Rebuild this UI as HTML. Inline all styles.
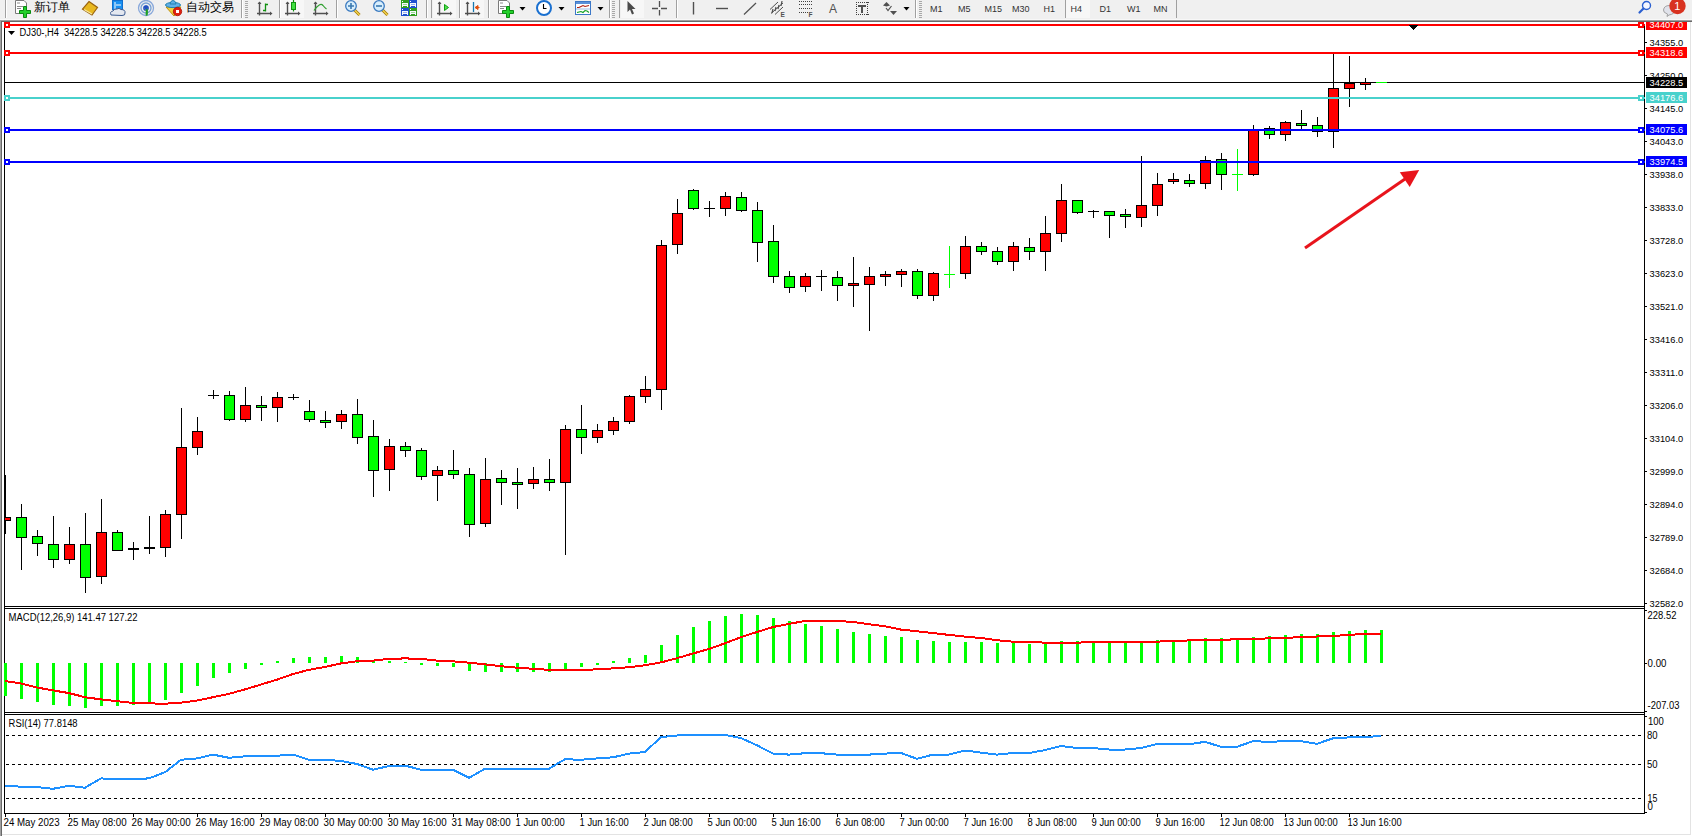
<!DOCTYPE html><html><head><meta charset="utf-8"><style>html,body{margin:0;padding:0;background:#fff;overflow:hidden}svg{display:block}text{font-family:"Liberation Sans", sans-serif}</style></head><body>
<svg width="1692" height="836" viewBox="0 0 1692 836">
<rect x="0" y="0" width="1692" height="836" fill="#ffffff"/>
<g shape-rendering="crispEdges">
<rect x="1690" y="21" width="1" height="814" fill="#e3e3e3"/>
<rect x="1" y="834" width="1690" height="1" fill="#e3e3e3"/>
<rect x="4" y="22" width="1" height="792" fill="#000"/>
<rect x="1644" y="26" width="1" height="788" fill="#000"/>
<rect x="4" y="606" width="1641" height="1" fill="#000"/>
<rect x="4" y="608" width="1641" height="1" fill="#000"/>
<rect x="4" y="712" width="1641" height="1" fill="#000"/>
<rect x="4" y="714" width="1641" height="1" fill="#000"/>
<rect x="4" y="813" width="1641" height="1" fill="#000"/>
<rect x="1645" y="42" width="2" height="1" fill="#000"/>
<rect x="1645" y="75" width="2" height="1" fill="#000"/>
<rect x="1645" y="108" width="2" height="1" fill="#000"/>
<rect x="1645" y="141" width="2" height="1" fill="#000"/>
<rect x="1645" y="174" width="2" height="1" fill="#000"/>
<rect x="1645" y="207" width="2" height="1" fill="#000"/>
<rect x="1645" y="240" width="2" height="1" fill="#000"/>
<rect x="1645" y="273" width="2" height="1" fill="#000"/>
<rect x="1645" y="306" width="2" height="1" fill="#000"/>
<rect x="1645" y="339" width="2" height="1" fill="#000"/>
<rect x="1645" y="372" width="2" height="1" fill="#000"/>
<rect x="1645" y="405" width="2" height="1" fill="#000"/>
<rect x="1645" y="438" width="2" height="1" fill="#000"/>
<rect x="1645" y="471" width="2" height="1" fill="#000"/>
<rect x="1645" y="504" width="2" height="1" fill="#000"/>
<rect x="1645" y="537" width="2" height="1" fill="#000"/>
<rect x="1645" y="570" width="2" height="1" fill="#000"/>
<rect x="1645" y="603" width="2" height="1" fill="#000"/>
<rect x="5" y="814" width="1" height="3" fill="#000"/>
<rect x="69" y="814" width="1" height="3" fill="#000"/>
<rect x="133" y="814" width="1" height="3" fill="#000"/>
<rect x="197" y="814" width="1" height="3" fill="#000"/>
<rect x="261" y="814" width="1" height="3" fill="#000"/>
<rect x="325" y="814" width="1" height="3" fill="#000"/>
<rect x="389" y="814" width="1" height="3" fill="#000"/>
<rect x="453" y="814" width="1" height="3" fill="#000"/>
<rect x="517" y="814" width="1" height="3" fill="#000"/>
<rect x="581" y="814" width="1" height="3" fill="#000"/>
<rect x="645" y="814" width="1" height="3" fill="#000"/>
<rect x="709" y="814" width="1" height="3" fill="#000"/>
<rect x="773" y="814" width="1" height="3" fill="#000"/>
<rect x="837" y="814" width="1" height="3" fill="#000"/>
<rect x="901" y="814" width="1" height="3" fill="#000"/>
<rect x="965" y="814" width="1" height="3" fill="#000"/>
<rect x="1029" y="814" width="1" height="3" fill="#000"/>
<rect x="1093" y="814" width="1" height="3" fill="#000"/>
<rect x="1157" y="814" width="1" height="3" fill="#000"/>
<rect x="1221" y="814" width="1" height="3" fill="#000"/>
<rect x="1285" y="814" width="1" height="3" fill="#000"/>
<rect x="1349" y="814" width="1" height="3" fill="#000"/>
</g>
<g shape-rendering="crispEdges">
<rect x="5" y="475" width="1" height="59" fill="#000"/>
<rect x="0" y="517" width="11" height="4" fill="#000"/><rect x="1" y="518" width="9" height="2" fill="#ff0000"/>
<rect x="21" y="504" width="1" height="66" fill="#000"/>
<rect x="16" y="517" width="11" height="21" fill="#000"/><rect x="17" y="518" width="9" height="19" fill="#00ff00"/>
<rect x="37" y="530" width="1" height="26" fill="#000"/>
<rect x="32" y="536" width="11" height="8" fill="#000"/><rect x="33" y="537" width="9" height="6" fill="#00ff00"/>
<rect x="53" y="516" width="1" height="52" fill="#000"/>
<rect x="48" y="544" width="11" height="16" fill="#000"/><rect x="49" y="545" width="9" height="14" fill="#00ff00"/>
<rect x="69" y="527" width="1" height="37" fill="#000"/>
<rect x="64" y="544" width="11" height="16" fill="#000"/><rect x="65" y="545" width="9" height="14" fill="#ff0000"/>
<rect x="85" y="513" width="1" height="80" fill="#000"/>
<rect x="80" y="544" width="11" height="34" fill="#000"/><rect x="81" y="545" width="9" height="32" fill="#00ff00"/>
<rect x="101" y="499" width="1" height="85" fill="#000"/>
<rect x="96" y="532" width="11" height="45" fill="#000"/><rect x="97" y="533" width="9" height="43" fill="#ff0000"/>
<rect x="117" y="530" width="1" height="21" fill="#000"/>
<rect x="112" y="532" width="11" height="19" fill="#000"/><rect x="113" y="533" width="9" height="17" fill="#00ff00"/>
<rect x="133" y="542" width="1" height="18" fill="#000"/>
<rect x="128" y="548" width="11" height="2" fill="#000"/>
<rect x="149" y="516" width="1" height="38" fill="#000"/>
<rect x="144" y="547" width="11" height="2" fill="#000"/>
<rect x="165" y="510" width="1" height="47" fill="#000"/>
<rect x="160" y="514" width="11" height="34" fill="#000"/><rect x="161" y="515" width="9" height="32" fill="#ff0000"/>
<rect x="181" y="408" width="1" height="131" fill="#000"/>
<rect x="176" y="447" width="11" height="68" fill="#000"/><rect x="177" y="448" width="9" height="66" fill="#ff0000"/>
<rect x="197" y="417" width="1" height="38" fill="#000"/>
<rect x="192" y="431" width="11" height="17" fill="#000"/><rect x="193" y="432" width="9" height="15" fill="#ff0000"/>
<rect x="213" y="390" width="1" height="9" fill="#000"/>
<rect x="208" y="395" width="11" height="1" fill="#000"/>
<rect x="229" y="391" width="1" height="30" fill="#000"/>
<rect x="224" y="395" width="11" height="25" fill="#000"/><rect x="225" y="396" width="9" height="23" fill="#00ff00"/>
<rect x="245" y="387" width="1" height="35" fill="#000"/>
<rect x="240" y="405" width="11" height="15" fill="#000"/><rect x="241" y="406" width="9" height="13" fill="#ff0000"/>
<rect x="261" y="396" width="1" height="25" fill="#000"/>
<rect x="256" y="405" width="11" height="3" fill="#000"/><rect x="257" y="406" width="9" height="1" fill="#00ff00"/>
<rect x="277" y="392" width="1" height="30" fill="#000"/>
<rect x="272" y="397" width="11" height="11" fill="#000"/><rect x="273" y="398" width="9" height="9" fill="#ff0000"/>
<rect x="293" y="394" width="1" height="6" fill="#000"/>
<rect x="288" y="397" width="11" height="1" fill="#000"/>
<rect x="309" y="400" width="1" height="22" fill="#000"/>
<rect x="304" y="411" width="11" height="9" fill="#000"/><rect x="305" y="412" width="9" height="7" fill="#00ff00"/>
<rect x="325" y="411" width="1" height="17" fill="#000"/>
<rect x="320" y="420" width="11" height="3" fill="#000"/><rect x="321" y="421" width="9" height="1" fill="#00ff00"/>
<rect x="341" y="410" width="1" height="19" fill="#000"/>
<rect x="336" y="414" width="11" height="8" fill="#000"/><rect x="337" y="415" width="9" height="6" fill="#ff0000"/>
<rect x="357" y="399" width="1" height="45" fill="#000"/>
<rect x="352" y="414" width="11" height="24" fill="#000"/><rect x="353" y="415" width="9" height="22" fill="#00ff00"/>
<rect x="373" y="420" width="1" height="77" fill="#000"/>
<rect x="368" y="436" width="11" height="35" fill="#000"/><rect x="369" y="437" width="9" height="33" fill="#00ff00"/>
<rect x="389" y="439" width="1" height="52" fill="#000"/>
<rect x="384" y="446" width="11" height="24" fill="#000"/><rect x="385" y="447" width="9" height="22" fill="#ff0000"/>
<rect x="405" y="442" width="1" height="15" fill="#000"/>
<rect x="400" y="446" width="11" height="5" fill="#000"/><rect x="401" y="447" width="9" height="3" fill="#00ff00"/>
<rect x="421" y="448" width="1" height="32" fill="#000"/>
<rect x="416" y="450" width="11" height="27" fill="#000"/><rect x="417" y="451" width="9" height="25" fill="#00ff00"/>
<rect x="437" y="466" width="1" height="35" fill="#000"/>
<rect x="432" y="470" width="11" height="6" fill="#000"/><rect x="433" y="471" width="9" height="4" fill="#ff0000"/>
<rect x="453" y="450" width="1" height="29" fill="#000"/>
<rect x="448" y="470" width="11" height="5" fill="#000"/><rect x="449" y="471" width="9" height="3" fill="#00ff00"/>
<rect x="469" y="468" width="1" height="69" fill="#000"/>
<rect x="464" y="474" width="11" height="51" fill="#000"/><rect x="465" y="475" width="9" height="49" fill="#00ff00"/>
<rect x="485" y="458" width="1" height="69" fill="#000"/>
<rect x="480" y="479" width="11" height="45" fill="#000"/><rect x="481" y="480" width="9" height="43" fill="#ff0000"/>
<rect x="501" y="470" width="1" height="35" fill="#000"/>
<rect x="496" y="478" width="11" height="5" fill="#000"/><rect x="497" y="479" width="9" height="3" fill="#00ff00"/>
<rect x="517" y="468" width="1" height="41" fill="#000"/>
<rect x="512" y="482" width="11" height="3" fill="#000"/><rect x="513" y="483" width="9" height="1" fill="#00ff00"/>
<rect x="533" y="467" width="1" height="22" fill="#000"/>
<rect x="528" y="479" width="11" height="5" fill="#000"/><rect x="529" y="480" width="9" height="3" fill="#ff0000"/>
<rect x="549" y="459" width="1" height="32" fill="#000"/>
<rect x="544" y="479" width="11" height="4" fill="#000"/><rect x="545" y="480" width="9" height="2" fill="#00ff00"/>
<rect x="565" y="425" width="1" height="130" fill="#000"/>
<rect x="560" y="429" width="11" height="54" fill="#000"/><rect x="561" y="430" width="9" height="52" fill="#ff0000"/>
<rect x="581" y="405" width="1" height="49" fill="#000"/>
<rect x="576" y="429" width="11" height="9" fill="#000"/><rect x="577" y="430" width="9" height="7" fill="#00ff00"/>
<rect x="597" y="424" width="1" height="19" fill="#000"/>
<rect x="592" y="430" width="11" height="8" fill="#000"/><rect x="593" y="431" width="9" height="6" fill="#ff0000"/>
<rect x="613" y="417" width="1" height="18" fill="#000"/>
<rect x="608" y="421" width="11" height="10" fill="#000"/><rect x="609" y="422" width="9" height="8" fill="#ff0000"/>
<rect x="629" y="395" width="1" height="29" fill="#000"/>
<rect x="624" y="396" width="11" height="26" fill="#000"/><rect x="625" y="397" width="9" height="24" fill="#ff0000"/>
<rect x="645" y="376" width="1" height="27" fill="#000"/>
<rect x="640" y="389" width="11" height="8" fill="#000"/><rect x="641" y="390" width="9" height="6" fill="#ff0000"/>
<rect x="661" y="240" width="1" height="170" fill="#000"/>
<rect x="656" y="245" width="11" height="145" fill="#000"/><rect x="657" y="246" width="9" height="143" fill="#ff0000"/>
<rect x="677" y="199" width="1" height="55" fill="#000"/>
<rect x="672" y="213" width="11" height="32" fill="#000"/><rect x="673" y="214" width="9" height="30" fill="#ff0000"/>
<rect x="693" y="189" width="1" height="21" fill="#000"/>
<rect x="688" y="190" width="11" height="19" fill="#000"/><rect x="689" y="191" width="9" height="17" fill="#00ff00"/>
<rect x="709" y="201" width="1" height="16" fill="#000"/>
<rect x="704" y="208" width="11" height="1" fill="#000"/>
<rect x="725" y="192" width="1" height="24" fill="#000"/>
<rect x="720" y="196" width="11" height="13" fill="#000"/><rect x="721" y="197" width="9" height="11" fill="#ff0000"/>
<rect x="741" y="192" width="1" height="20" fill="#000"/>
<rect x="736" y="197" width="11" height="14" fill="#000"/><rect x="737" y="198" width="9" height="12" fill="#00ff00"/>
<rect x="757" y="202" width="1" height="60" fill="#000"/>
<rect x="752" y="210" width="11" height="33" fill="#000"/><rect x="753" y="211" width="9" height="31" fill="#00ff00"/>
<rect x="773" y="225" width="1" height="58" fill="#000"/>
<rect x="768" y="241" width="11" height="36" fill="#000"/><rect x="769" y="242" width="9" height="34" fill="#00ff00"/>
<rect x="789" y="271" width="1" height="22" fill="#000"/>
<rect x="784" y="276" width="11" height="12" fill="#000"/><rect x="785" y="277" width="9" height="10" fill="#00ff00"/>
<rect x="805" y="273" width="1" height="19" fill="#000"/>
<rect x="800" y="276" width="11" height="11" fill="#000"/><rect x="801" y="277" width="9" height="9" fill="#ff0000"/>
<rect x="821" y="270" width="1" height="21" fill="#000"/>
<rect x="816" y="276" width="11" height="1" fill="#000"/>
<rect x="837" y="271" width="1" height="30" fill="#000"/>
<rect x="832" y="277" width="11" height="9" fill="#000"/><rect x="833" y="278" width="9" height="7" fill="#00ff00"/>
<rect x="853" y="257" width="1" height="50" fill="#000"/>
<rect x="848" y="283" width="11" height="3" fill="#000"/><rect x="849" y="284" width="9" height="1" fill="#ff0000"/>
<rect x="869" y="267" width="1" height="64" fill="#000"/>
<rect x="864" y="276" width="11" height="9" fill="#000"/><rect x="865" y="277" width="9" height="7" fill="#ff0000"/>
<rect x="885" y="271" width="1" height="15" fill="#000"/>
<rect x="880" y="274" width="11" height="3" fill="#000"/><rect x="881" y="275" width="9" height="1" fill="#ff0000"/>
<rect x="901" y="269" width="1" height="18" fill="#000"/>
<rect x="896" y="271" width="11" height="4" fill="#000"/><rect x="897" y="272" width="9" height="2" fill="#ff0000"/>
<rect x="917" y="269" width="1" height="30" fill="#000"/>
<rect x="912" y="271" width="11" height="25" fill="#000"/><rect x="913" y="272" width="9" height="23" fill="#00ff00"/>
<rect x="933" y="272" width="1" height="29" fill="#000"/>
<rect x="928" y="273" width="11" height="23" fill="#000"/><rect x="929" y="274" width="9" height="21" fill="#ff0000"/>
<rect x="949" y="246" width="1" height="42" fill="#00ff00"/>
<rect x="944" y="274" width="11" height="1" fill="#00ff00"/>
<rect x="965" y="236" width="1" height="43" fill="#000"/>
<rect x="960" y="246" width="11" height="28" fill="#000"/><rect x="961" y="247" width="9" height="26" fill="#ff0000"/>
<rect x="981" y="242" width="1" height="13" fill="#000"/>
<rect x="976" y="246" width="11" height="6" fill="#000"/><rect x="977" y="247" width="9" height="4" fill="#00ff00"/>
<rect x="997" y="247" width="1" height="18" fill="#000"/>
<rect x="992" y="251" width="11" height="11" fill="#000"/><rect x="993" y="252" width="9" height="9" fill="#00ff00"/>
<rect x="1013" y="242" width="1" height="29" fill="#000"/>
<rect x="1008" y="246" width="11" height="16" fill="#000"/><rect x="1009" y="247" width="9" height="14" fill="#ff0000"/>
<rect x="1029" y="238" width="1" height="22" fill="#000"/>
<rect x="1024" y="247" width="11" height="5" fill="#000"/><rect x="1025" y="248" width="9" height="3" fill="#00ff00"/>
<rect x="1045" y="216" width="1" height="55" fill="#000"/>
<rect x="1040" y="233" width="11" height="19" fill="#000"/><rect x="1041" y="234" width="9" height="17" fill="#ff0000"/>
<rect x="1061" y="184" width="1" height="58" fill="#000"/>
<rect x="1056" y="200" width="11" height="34" fill="#000"/><rect x="1057" y="201" width="9" height="32" fill="#ff0000"/>
<rect x="1077" y="200" width="1" height="14" fill="#000"/>
<rect x="1072" y="200" width="11" height="13" fill="#000"/><rect x="1073" y="201" width="9" height="11" fill="#00ff00"/>
<rect x="1093" y="210" width="1" height="8" fill="#000"/>
<rect x="1088" y="211" width="11" height="1" fill="#000"/>
<rect x="1109" y="211" width="1" height="27" fill="#000"/>
<rect x="1104" y="211" width="11" height="5" fill="#000"/><rect x="1105" y="212" width="9" height="3" fill="#00ff00"/>
<rect x="1125" y="209" width="1" height="19" fill="#000"/>
<rect x="1120" y="214" width="11" height="3" fill="#000"/><rect x="1121" y="215" width="9" height="1" fill="#00ff00"/>
<rect x="1141" y="156" width="1" height="71" fill="#000"/>
<rect x="1136" y="205" width="11" height="13" fill="#000"/><rect x="1137" y="206" width="9" height="11" fill="#ff0000"/>
<rect x="1157" y="173" width="1" height="43" fill="#000"/>
<rect x="1152" y="184" width="11" height="22" fill="#000"/><rect x="1153" y="185" width="9" height="20" fill="#ff0000"/>
<rect x="1173" y="173" width="1" height="11" fill="#000"/>
<rect x="1168" y="179" width="11" height="3" fill="#000"/><rect x="1169" y="180" width="9" height="1" fill="#ff0000"/>
<rect x="1189" y="174" width="1" height="13" fill="#000"/>
<rect x="1184" y="180" width="11" height="4" fill="#000"/><rect x="1185" y="181" width="9" height="2" fill="#00ff00"/>
<rect x="1205" y="156" width="1" height="33" fill="#000"/>
<rect x="1200" y="160" width="11" height="24" fill="#000"/><rect x="1201" y="161" width="9" height="22" fill="#ff0000"/>
<rect x="1221" y="153" width="1" height="37" fill="#000"/>
<rect x="1216" y="159" width="11" height="16" fill="#000"/><rect x="1217" y="160" width="9" height="14" fill="#00ff00"/>
<rect x="1237" y="149" width="1" height="42" fill="#00ff00"/>
<rect x="1232" y="174" width="11" height="1" fill="#00ff00"/>
<rect x="1253" y="125" width="1" height="51" fill="#000"/>
<rect x="1248" y="130" width="11" height="45" fill="#000"/><rect x="1249" y="131" width="9" height="43" fill="#ff0000"/>
<rect x="1269" y="126" width="1" height="13" fill="#000"/>
<rect x="1264" y="128" width="11" height="7" fill="#000"/><rect x="1265" y="129" width="9" height="5" fill="#00ff00"/>
<rect x="1285" y="121" width="1" height="20" fill="#000"/>
<rect x="1280" y="122" width="11" height="13" fill="#000"/><rect x="1281" y="123" width="9" height="11" fill="#ff0000"/>
<rect x="1301" y="110" width="1" height="19" fill="#000"/>
<rect x="1296" y="123" width="11" height="3" fill="#000"/><rect x="1297" y="124" width="9" height="1" fill="#00ff00"/>
<rect x="1317" y="117" width="1" height="20" fill="#000"/>
<rect x="1312" y="125" width="11" height="7" fill="#000"/><rect x="1313" y="126" width="9" height="5" fill="#00ff00"/>
<rect x="1333" y="54" width="1" height="94" fill="#000"/>
<rect x="1328" y="88" width="11" height="44" fill="#000"/><rect x="1329" y="89" width="9" height="42" fill="#ff0000"/>
<rect x="1349" y="56" width="1" height="51" fill="#000"/>
<rect x="1344" y="83" width="11" height="6" fill="#000"/><rect x="1345" y="84" width="9" height="4" fill="#ff0000"/>
<rect x="1365" y="78" width="1" height="12" fill="#000"/>
<rect x="1360" y="82" width="11" height="3" fill="#000"/><rect x="1361" y="83" width="9" height="1" fill="#ff0000"/>
<rect x="1376" y="82" width="11" height="1" fill="#00ff00"/>
</g>
<rect x="0" y="22" width="4" height="584" fill="#fff" shape-rendering="crispEdges"/>
<rect x="4" y="22" width="1" height="584" fill="#000" shape-rendering="crispEdges"/>
<rect x="0" y="20" width="1" height="816" fill="#a0a0a0" shape-rendering="crispEdges"/>
<rect x="1" y="21" width="1" height="815" fill="#696969" shape-rendering="crispEdges"/>
<g shape-rendering="crispEdges">
<rect x="5" y="24" width="1640" height="2" fill="#ff0000"/><rect x="4" y="22" width="6" height="6" fill="#ff0000"/><rect x="6" y="24" width="2" height="2" fill="#fff"/><rect x="1638" y="22" width="6" height="6" fill="#ff0000"/><rect x="1640" y="24" width="2" height="2" fill="#fff"/>
<rect x="5" y="52" width="1640" height="2" fill="#ff0000"/><rect x="4" y="50" width="6" height="6" fill="#ff0000"/><rect x="6" y="52" width="2" height="2" fill="#fff"/><rect x="1638" y="50" width="6" height="6" fill="#ff0000"/><rect x="1640" y="52" width="2" height="2" fill="#fff"/>
<rect x="5" y="82" width="1640" height="1" fill="#000"/>
<rect x="5" y="97" width="1640" height="2" fill="#48d1cc"/><rect x="4" y="95" width="6" height="6" fill="#48d1cc"/><rect x="6" y="97" width="2" height="2" fill="#fff"/><rect x="1638" y="95" width="6" height="6" fill="#48d1cc"/><rect x="1640" y="97" width="2" height="2" fill="#fff"/>
<rect x="5" y="129" width="1640" height="2" fill="#0000ff"/><rect x="4" y="127" width="6" height="6" fill="#0000ff"/><rect x="6" y="129" width="2" height="2" fill="#fff"/><rect x="1638" y="127" width="6" height="6" fill="#0000ff"/><rect x="1640" y="129" width="2" height="2" fill="#fff"/>
<rect x="5" y="161" width="1640" height="2" fill="#0000ff"/><rect x="4" y="159" width="6" height="6" fill="#0000ff"/><rect x="6" y="161" width="2" height="2" fill="#fff"/><rect x="1638" y="159" width="6" height="6" fill="#0000ff"/><rect x="1640" y="161" width="2" height="2" fill="#fff"/>
</g>
<rect x="1376" y="82" width="11" height="1" fill="#00ff00" shape-rendering="crispEdges"/>
<path d="M1409 25 L1418 25 L1413.5 29.8 Z" fill="#000" shape-rendering="crispEdges"/>
<line x1="1305" y1="248" x2="1405" y2="179" stroke="#e8141c" stroke-width="3"/>
<path d="M1399.8 172.3 L1419.2 169.9 L1409.7 186.9 Z" fill="#e8141c"/>
<g shape-rendering="crispEdges">
<rect x="4" y="663" width="3" height="33" fill="#00ff00"/>
<rect x="20" y="663" width="3" height="36" fill="#00ff00"/>
<rect x="36" y="663" width="3" height="39" fill="#00ff00"/>
<rect x="52" y="663" width="3" height="42" fill="#00ff00"/>
<rect x="68" y="663" width="3" height="43" fill="#00ff00"/>
<rect x="84" y="663" width="3" height="45" fill="#00ff00"/>
<rect x="100" y="663" width="3" height="43" fill="#00ff00"/>
<rect x="116" y="663" width="3" height="43" fill="#00ff00"/>
<rect x="132" y="663" width="3" height="42" fill="#00ff00"/>
<rect x="148" y="663" width="3" height="40" fill="#00ff00"/>
<rect x="164" y="663" width="3" height="37" fill="#00ff00"/>
<rect x="180" y="663" width="3" height="30" fill="#00ff00"/>
<rect x="196" y="663" width="3" height="23" fill="#00ff00"/>
<rect x="212" y="663" width="3" height="15" fill="#00ff00"/>
<rect x="228" y="663" width="3" height="10" fill="#00ff00"/>
<rect x="244" y="663" width="3" height="6" fill="#00ff00"/>
<rect x="260" y="663" width="3" height="2" fill="#00ff00"/>
<rect x="276" y="661" width="3" height="2" fill="#00ff00"/>
<rect x="292" y="658" width="3" height="5" fill="#00ff00"/>
<rect x="308" y="657" width="3" height="6" fill="#00ff00"/>
<rect x="324" y="657" width="3" height="6" fill="#00ff00"/>
<rect x="340" y="656" width="3" height="7" fill="#00ff00"/>
<rect x="356" y="657" width="3" height="6" fill="#00ff00"/>
<rect x="372" y="661" width="3" height="2" fill="#00ff00"/>
<rect x="388" y="661" width="3" height="2" fill="#00ff00"/>
<rect x="404" y="662" width="3" height="1" fill="#00ff00"/>
<rect x="420" y="663" width="3" height="2" fill="#00ff00"/>
<rect x="436" y="663" width="3" height="3" fill="#00ff00"/>
<rect x="452" y="663" width="3" height="4" fill="#00ff00"/>
<rect x="468" y="663" width="3" height="8" fill="#00ff00"/>
<rect x="484" y="663" width="3" height="9" fill="#00ff00"/>
<rect x="500" y="663" width="3" height="9" fill="#00ff00"/>
<rect x="516" y="663" width="3" height="9" fill="#00ff00"/>
<rect x="532" y="663" width="3" height="9" fill="#00ff00"/>
<rect x="548" y="663" width="3" height="9" fill="#00ff00"/>
<rect x="564" y="663" width="3" height="6" fill="#00ff00"/>
<rect x="580" y="663" width="3" height="4" fill="#00ff00"/>
<rect x="596" y="663" width="3" height="2" fill="#00ff00"/>
<rect x="612" y="661" width="3" height="2" fill="#00ff00"/>
<rect x="628" y="658" width="3" height="5" fill="#00ff00"/>
<rect x="644" y="655" width="3" height="8" fill="#00ff00"/>
<rect x="660" y="645" width="3" height="18" fill="#00ff00"/>
<rect x="676" y="635" width="3" height="28" fill="#00ff00"/>
<rect x="692" y="627" width="3" height="36" fill="#00ff00"/>
<rect x="708" y="621" width="3" height="42" fill="#00ff00"/>
<rect x="724" y="616" width="3" height="47" fill="#00ff00"/>
<rect x="740" y="614" width="3" height="49" fill="#00ff00"/>
<rect x="756" y="615" width="3" height="48" fill="#00ff00"/>
<rect x="772" y="618" width="3" height="45" fill="#00ff00"/>
<rect x="788" y="621" width="3" height="42" fill="#00ff00"/>
<rect x="804" y="624" width="3" height="39" fill="#00ff00"/>
<rect x="820" y="626" width="3" height="37" fill="#00ff00"/>
<rect x="836" y="629" width="3" height="34" fill="#00ff00"/>
<rect x="852" y="632" width="3" height="31" fill="#00ff00"/>
<rect x="868" y="634" width="3" height="29" fill="#00ff00"/>
<rect x="884" y="636" width="3" height="27" fill="#00ff00"/>
<rect x="900" y="637" width="3" height="26" fill="#00ff00"/>
<rect x="916" y="640" width="3" height="23" fill="#00ff00"/>
<rect x="932" y="641" width="3" height="22" fill="#00ff00"/>
<rect x="948" y="642" width="3" height="21" fill="#00ff00"/>
<rect x="964" y="642" width="3" height="21" fill="#00ff00"/>
<rect x="980" y="642" width="3" height="21" fill="#00ff00"/>
<rect x="996" y="643" width="3" height="20" fill="#00ff00"/>
<rect x="1012" y="643" width="3" height="20" fill="#00ff00"/>
<rect x="1028" y="644" width="3" height="19" fill="#00ff00"/>
<rect x="1044" y="643" width="3" height="20" fill="#00ff00"/>
<rect x="1060" y="641" width="3" height="22" fill="#00ff00"/>
<rect x="1076" y="641" width="3" height="22" fill="#00ff00"/>
<rect x="1092" y="641" width="3" height="22" fill="#00ff00"/>
<rect x="1108" y="642" width="3" height="21" fill="#00ff00"/>
<rect x="1124" y="642" width="3" height="21" fill="#00ff00"/>
<rect x="1140" y="642" width="3" height="21" fill="#00ff00"/>
<rect x="1156" y="640" width="3" height="23" fill="#00ff00"/>
<rect x="1172" y="640" width="3" height="23" fill="#00ff00"/>
<rect x="1188" y="639" width="3" height="24" fill="#00ff00"/>
<rect x="1204" y="638" width="3" height="25" fill="#00ff00"/>
<rect x="1220" y="638" width="3" height="25" fill="#00ff00"/>
<rect x="1236" y="640" width="3" height="23" fill="#00ff00"/>
<rect x="1252" y="637" width="3" height="26" fill="#00ff00"/>
<rect x="1268" y="636" width="3" height="27" fill="#00ff00"/>
<rect x="1284" y="635" width="3" height="28" fill="#00ff00"/>
<rect x="1300" y="634" width="3" height="29" fill="#00ff00"/>
<rect x="1316" y="634" width="3" height="29" fill="#00ff00"/>
<rect x="1332" y="632" width="3" height="31" fill="#00ff00"/>
<rect x="1348" y="631" width="3" height="32" fill="#00ff00"/>
<rect x="1364" y="630" width="3" height="33" fill="#00ff00"/>
<rect x="1380" y="630" width="3" height="33" fill="#00ff00"/>
</g>
<polyline points="5,681 21,683.5 37,687.5 53,690.4 69,693.1 85,697.2 101,699.4 117,701.2 133,703 149,703.4 165,703.7 181,702.7 197,700.5 213,697.2 229,693.8 245,689.4 261,684.5 277,679.7 293,674 309,669.8 325,667 341,663.4 357,661.3 373,660.6 389,658.9 405,658.4 421,658.9 437,660.6 453,661.3 469,662.7 485,664.4 501,666.2 517,667.7 533,668.8 549,669.8 565,669.8 581,669.8 597,669.4 613,668.4 629,667.2 645,665.2 661,662.4 677,658.2 693,653.5 709,649 725,643.3 741,637.2 757,632 773,627 789,623.9 805,620.9 821,620.6 837,620.9 853,622 869,624.2 885,626.3 901,629.6 917,631.3 949,634.9 965,636.6 981,638 997,640.2 1013,641.7 1029,641.7 1045,642.7 1077,642.7 1093,642 1109,641.7 1157,641.7 1173,640.8 1221,639.8 1253,638.8 1285,638 1301,637 1333,636 1349,634.9 1365,633.9 1381,633.9" fill="none" stroke="#ff0000" stroke-width="2" shape-rendering="crispEdges"/>
<line x1="6" y1="735.5" x2="1644" y2="735.5" stroke="#000" stroke-width="1" stroke-dasharray="3,3" shape-rendering="crispEdges"/>
<line x1="6" y1="764.5" x2="1644" y2="764.5" stroke="#000" stroke-width="1" stroke-dasharray="3,3" shape-rendering="crispEdges"/>
<line x1="6" y1="798.5" x2="1644" y2="798.5" stroke="#000" stroke-width="1" stroke-dasharray="3,3" shape-rendering="crispEdges"/>
<polyline points="5,785.7 21,786.7 37,787.1 53,788.8 69,785.7 85,787.7 101,778.4 117,779.5 133,779.1 149,778.4 165,772.2 181,759.8 197,758.4 213,754.6 229,757.8 245,756.3 261,755.7 277,755.7 293,754.6 309,759.8 325,759.8 341,760.9 357,764 373,769.7 389,766 405,765.6 421,769.7 437,769.7 453,769.7 469,777.8 485,768.7 501,768.7 517,768.7 533,768.7 549,768.7 565,759.2 581,759.8 597,758.4 613,757.3 629,753.6 645,752 661,737.1 677,735.5 693,735 709,735 725,735 741,738.1 757,745.3 773,753.6 789,754.6 805,753.2 821,753.2 837,754.6 853,754.6 869,754.6 885,753.6 901,753 917,758.8 933,754.6 949,754.6 965,750.5 981,752.6 997,754.6 1013,753 1029,753 1045,750.1 1061,746 1077,748 1093,748 1109,749.5 1125,749.5 1141,748 1157,743.9 1173,744.3 1189,744.3 1205,741.8 1221,746.8 1237,746.8 1253,741.2 1269,741.8 1285,741.2 1301,741.2 1317,743.8 1333,738.3 1349,737.4 1365,736.7 1381,736.3" fill="none" stroke="#1e90ff" stroke-width="2" shape-rendering="crispEdges"/>
<text x="1649.6" y="46" font-size="9.6" fill="#000" textLength="33.6" lengthAdjust="spacingAndGlyphs">34355.0</text>
<text x="1649.6" y="79" font-size="9.6" fill="#000" textLength="33.6" lengthAdjust="spacingAndGlyphs">34250.0</text>
<text x="1649.6" y="112" font-size="9.6" fill="#000" textLength="33.6" lengthAdjust="spacingAndGlyphs">34145.0</text>
<text x="1649.6" y="145" font-size="9.6" fill="#000" textLength="33.6" lengthAdjust="spacingAndGlyphs">34043.0</text>
<text x="1649.6" y="178" font-size="9.6" fill="#000" textLength="33.6" lengthAdjust="spacingAndGlyphs">33938.0</text>
<text x="1649.6" y="211" font-size="9.6" fill="#000" textLength="33.6" lengthAdjust="spacingAndGlyphs">33833.0</text>
<text x="1649.6" y="244" font-size="9.6" fill="#000" textLength="33.6" lengthAdjust="spacingAndGlyphs">33728.0</text>
<text x="1649.6" y="277" font-size="9.6" fill="#000" textLength="33.6" lengthAdjust="spacingAndGlyphs">33623.0</text>
<text x="1649.6" y="310" font-size="9.6" fill="#000" textLength="33.6" lengthAdjust="spacingAndGlyphs">33521.0</text>
<text x="1649.6" y="343" font-size="9.6" fill="#000" textLength="33.6" lengthAdjust="spacingAndGlyphs">33416.0</text>
<text x="1649.6" y="376" font-size="9.6" fill="#000" textLength="33.6" lengthAdjust="spacingAndGlyphs">33311.0</text>
<text x="1649.6" y="409" font-size="9.6" fill="#000" textLength="33.6" lengthAdjust="spacingAndGlyphs">33206.0</text>
<text x="1649.6" y="442" font-size="9.6" fill="#000" textLength="33.6" lengthAdjust="spacingAndGlyphs">33104.0</text>
<text x="1649.6" y="475" font-size="9.6" fill="#000" textLength="33.6" lengthAdjust="spacingAndGlyphs">32999.0</text>
<text x="1649.6" y="508" font-size="9.6" fill="#000" textLength="33.6" lengthAdjust="spacingAndGlyphs">32894.0</text>
<text x="1649.6" y="541" font-size="9.6" fill="#000" textLength="33.6" lengthAdjust="spacingAndGlyphs">32789.0</text>
<text x="1649.6" y="574" font-size="9.6" fill="#000" textLength="33.6" lengthAdjust="spacingAndGlyphs">32684.0</text>
<text x="1649.6" y="607" font-size="9.6" fill="#000" textLength="33.6" lengthAdjust="spacingAndGlyphs">32582.0</text>
<rect x="1646" y="19" width="41" height="11" fill="#ff0000" shape-rendering="crispEdges"/><text x="1649.6" y="28" font-size="9.6" fill="#fff" textLength="33.6" lengthAdjust="spacingAndGlyphs">34407.0</text>
<rect x="1646" y="47" width="41" height="11" fill="#ff0000" shape-rendering="crispEdges"/><text x="1649.6" y="56" font-size="9.6" fill="#fff" textLength="33.6" lengthAdjust="spacingAndGlyphs">34318.6</text>
<rect x="1646" y="77" width="41" height="11" fill="#000000" shape-rendering="crispEdges"/><text x="1649.6" y="86" font-size="9.6" fill="#fff" textLength="33.6" lengthAdjust="spacingAndGlyphs">34228.5</text>
<rect x="1646" y="92" width="41" height="11" fill="#48d1cc" shape-rendering="crispEdges"/><text x="1649.6" y="101" font-size="9.6" fill="#fff" textLength="33.6" lengthAdjust="spacingAndGlyphs">34176.6</text>
<rect x="1646" y="124" width="41" height="11" fill="#0000ff" shape-rendering="crispEdges"/><text x="1649.6" y="133" font-size="9.6" fill="#fff" textLength="33.6" lengthAdjust="spacingAndGlyphs">34075.6</text>
<rect x="1646" y="156" width="41" height="11" fill="#0000ff" shape-rendering="crispEdges"/><text x="1649.6" y="165" font-size="9.6" fill="#fff" textLength="33.6" lengthAdjust="spacingAndGlyphs">33974.5</text>
<text x="3.6" y="826" font-size="10" fill="#000" textLength="56" lengthAdjust="spacingAndGlyphs">24 May 2023</text>
<text x="67.6" y="826" font-size="10" fill="#000" textLength="59" lengthAdjust="spacingAndGlyphs">25 May 08:00</text>
<text x="131.6" y="826" font-size="10" fill="#000" textLength="59" lengthAdjust="spacingAndGlyphs">26 May 00:00</text>
<text x="195.6" y="826" font-size="10" fill="#000" textLength="59" lengthAdjust="spacingAndGlyphs">26 May 16:00</text>
<text x="259.6" y="826" font-size="10" fill="#000" textLength="59" lengthAdjust="spacingAndGlyphs">29 May 08:00</text>
<text x="323.6" y="826" font-size="10" fill="#000" textLength="59" lengthAdjust="spacingAndGlyphs">30 May 00:00</text>
<text x="387.6" y="826" font-size="10" fill="#000" textLength="59" lengthAdjust="spacingAndGlyphs">30 May 16:00</text>
<text x="451.6" y="826" font-size="10" fill="#000" textLength="59" lengthAdjust="spacingAndGlyphs">31 May 08:00</text>
<text x="515.6" y="826" font-size="10" fill="#000" textLength="49" lengthAdjust="spacingAndGlyphs">1 Jun 00:00</text>
<text x="579.6" y="826" font-size="10" fill="#000" textLength="49" lengthAdjust="spacingAndGlyphs">1 Jun 16:00</text>
<text x="643.6" y="826" font-size="10" fill="#000" textLength="49" lengthAdjust="spacingAndGlyphs">2 Jun 08:00</text>
<text x="707.6" y="826" font-size="10" fill="#000" textLength="49" lengthAdjust="spacingAndGlyphs">5 Jun 00:00</text>
<text x="771.6" y="826" font-size="10" fill="#000" textLength="49" lengthAdjust="spacingAndGlyphs">5 Jun 16:00</text>
<text x="835.6" y="826" font-size="10" fill="#000" textLength="49" lengthAdjust="spacingAndGlyphs">6 Jun 08:00</text>
<text x="899.6" y="826" font-size="10" fill="#000" textLength="49" lengthAdjust="spacingAndGlyphs">7 Jun 00:00</text>
<text x="963.6" y="826" font-size="10" fill="#000" textLength="49" lengthAdjust="spacingAndGlyphs">7 Jun 16:00</text>
<text x="1027.6" y="826" font-size="10" fill="#000" textLength="49" lengthAdjust="spacingAndGlyphs">8 Jun 08:00</text>
<text x="1091.6" y="826" font-size="10" fill="#000" textLength="49" lengthAdjust="spacingAndGlyphs">9 Jun 00:00</text>
<text x="1155.6" y="826" font-size="10" fill="#000" textLength="49" lengthAdjust="spacingAndGlyphs">9 Jun 16:00</text>
<text x="1219.6" y="826" font-size="10" fill="#000" textLength="54" lengthAdjust="spacingAndGlyphs">12 Jun 08:00</text>
<text x="1283.6" y="826" font-size="10" fill="#000" textLength="54" lengthAdjust="spacingAndGlyphs">13 Jun 00:00</text>
<text x="1347.6" y="826" font-size="10" fill="#000" textLength="54" lengthAdjust="spacingAndGlyphs">13 Jun 16:00</text>
<text x="19.6" y="36" font-size="10" fill="#000" textLength="187" lengthAdjust="spacingAndGlyphs">DJ30-,H4&#160;&#160;34228.5 34228.5 34228.5 34228.5</text>
<path d="M8 31 L15 31 L11.5 35 Z" fill="#000"/>
<text x="8.6" y="621" font-size="10" fill="#000" textLength="129" lengthAdjust="spacingAndGlyphs">MACD(12,26,9) 141.47 127.22</text>
<text x="8.6" y="727" font-size="10" fill="#000" textLength="69" lengthAdjust="spacingAndGlyphs">RSI(14) 77.8148</text>
<text x="1647.6" y="619" font-size="10" fill="#000" textLength="28.8" lengthAdjust="spacingAndGlyphs">228.52</text>
<text x="1647.6" y="667" font-size="10" fill="#000" textLength="18.8" lengthAdjust="spacingAndGlyphs">0.00</text>
<text x="1647.6" y="709" font-size="10" fill="#000" textLength="31.8" lengthAdjust="spacingAndGlyphs">-207.03</text>
<text x="1648" y="725" font-size="10" fill="#000" textLength="15.8" lengthAdjust="spacingAndGlyphs">100</text>
<text x="1647" y="739" font-size="10" fill="#000" textLength="10.6" lengthAdjust="spacingAndGlyphs">80</text>
<text x="1647" y="768" font-size="10" fill="#000" textLength="10.6" lengthAdjust="spacingAndGlyphs">50</text>
<text x="1647.6" y="802" font-size="10" fill="#000" textLength="9.8" lengthAdjust="spacingAndGlyphs">15</text>
<text x="1647.6" y="810" font-size="10" fill="#000" textLength="5.4" lengthAdjust="spacingAndGlyphs">0</text>
<g shape-rendering="crispEdges"><rect x="1645" y="610" width="2" height="1" fill="#000"/><rect x="1645" y="663" width="2" height="1" fill="#000"/><rect x="1645" y="711" width="2" height="1" fill="#000"/><rect x="1645" y="716" width="2" height="1" fill="#000"/><rect x="1645" y="812" width="2" height="1" fill="#000"/></g>
<g id="toolbar" shape-rendering="crispEdges">
<rect x="0" y="0" width="1692" height="20" fill="#f0f0f0"/>
<rect x="0" y="19" width="1692" height="1" fill="#f8f8f8"/>
<rect x="0" y="20" width="1692" height="1" fill="#a0a0a0"/>
<rect x="1" y="21" width="1691" height="1" fill="#696969"/>
</g>
<g shape-rendering="crispEdges">
<rect x="5" y="0" width="1" height="18" fill="#a0a0a0"/><rect x="6" y="0" width="1" height="18" fill="#ffffff"/>
</g>
<path d="M15.5 0.5 H24 L26.5 3 V13.5 H15.5 Z" fill="#fff" stroke="#7a7a7a" stroke-width="1"/>
<path d="M17 3 H20 M17 6.5 H23 M17 8.5 H21" stroke="#8a8a8a" stroke-width="1"/>
<path d="M23.5 6.5 h3 v4 h4 v3 h-4 v4 h-3 v-4 h-4 v-3 h4 Z" fill="#22d02a" stroke="#0a8a10" stroke-width="1"/>
<text x="33.5" y="10.5" font-size="12" fill="#000" font-family='"Liberation Sans", sans-serif'>新订单</text>
<path d="M89 1.5 L97.5 7.5 L92 15 L82.5 9 Z" fill="#e8b820" stroke="#9a6410" stroke-width="1.2"/>
<path d="M84 9.5 L92 14" stroke="#f8e8a0" stroke-width="1.2"/>
<rect x="112.5" y="0.5" width="10" height="9" fill="#1a90f0" stroke="#1070d0" stroke-width="1"/>
<path d="M115 2 V9 M116 5 H121" stroke="#fff" stroke-width="1"/>
<path d="M111 15 Q109.5 11.5 113 11 Q114 8.5 117 9 Q119 7.5 121 9.5 Q125.5 9.5 125 13 Q125.5 15.5 122 15.5 Z" fill="#e4e8f0" stroke="#3a5a90" stroke-width="1"/>
<circle cx="146" cy="8" r="7.5" fill="none" stroke="#7ca0d8" stroke-width="1.3" opacity="0.9"/>
<circle cx="146" cy="8" r="5" fill="none" stroke="#6a98d0" stroke-width="1.3" opacity="0.9"/>
<circle cx="146" cy="8" r="2.2" fill="none" stroke="#2050c0" stroke-width="1.3" opacity="1"/>
<path d="M146 8 A7.5 7.5 0 0 1 146.5 15.5" fill="none" stroke="#30a040" stroke-width="1.5"/>
<path d="M146.5 8 V15.5" stroke="#20a020" stroke-width="1.6"/>
<circle cx="146" cy="7.5" r="2" fill="#2050c0"/>
<path d="M166 7 L181 7 L174 16 Z" fill="#f0d040" stroke="#c09010" stroke-width="1"/>
<ellipse cx="173" cy="5" rx="7.5" ry="2.6" fill="#60b0e8" stroke="#2080b0" stroke-width="1"/>
<path d="M170 4 Q170.5 0.5 173 0.5 Q175.5 0.5 176 4 Z" fill="#60b0e8" stroke="#2080b0" stroke-width="1"/>
<circle cx="177.5" cy="11.5" r="4.2" fill="#e02010" stroke="#b01000" stroke-width="0.8"/>
<rect x="176" y="10" width="3" height="3" fill="#fff"/>
<text x="186" y="10.5" font-size="12" fill="#000" font-family='"Liberation Sans", sans-serif'>自动交易</text>
<g shape-rendering="crispEdges">
<rect x="241" y="0" width="1" height="18" fill="#a0a0a0"/><rect x="242" y="0" width="1" height="18" fill="#ffffff"/>
<rect x="245" y="1" width="3" height="1" fill="#a8a8a8"/>
<rect x="245" y="3" width="3" height="1" fill="#a8a8a8"/>
<rect x="245" y="5" width="3" height="1" fill="#a8a8a8"/>
<rect x="245" y="7" width="3" height="1" fill="#a8a8a8"/>
<rect x="245" y="9" width="3" height="1" fill="#a8a8a8"/>
<rect x="245" y="11" width="3" height="1" fill="#a8a8a8"/>
<rect x="245" y="13" width="3" height="1" fill="#a8a8a8"/>
<rect x="245" y="15" width="3" height="1" fill="#a8a8a8"/>
<rect x="245" y="17" width="3" height="1" fill="#a8a8a8"/>
</g>
<g stroke="#505050" stroke-width="1.4" fill="none"><path d="M259.5 2 V15.5 M257 13.5 H271"/></g>
<path d="M259.5 1.5 L257.5 4 L261.5 4 Z M272.5 13.5 L270 11.5 L270 15.5 Z" fill="#505050"/>
<path d="M265.5 3.5 V11.5 M265.5 4.5 H268 M265.5 10.5 H263" stroke="#109010" stroke-width="1.3" fill="none"/>
<g shape-rendering="crispEdges">
<rect x="279" y="0" width="1" height="18" fill="#a0a0a0"/><rect x="280" y="0" width="1" height="18" fill="#ffffff"/>
<rect x="281" y="0" width="23" height="18" fill="#f7f7f7"/>
</g>
<g stroke="#505050" stroke-width="1.4" fill="none"><path d="M287.5 2 V15.5 M285 13.5 H299"/></g>
<path d="M287.5 1.5 L285.5 4 L289.5 4 Z M300.5 13.5 L298 11.5 L298 15.5 Z" fill="#505050"/>
<path d="M293.5 0 V11.5" stroke="#109010" stroke-width="1.2"/>
<rect x="291.5" y="2.5" width="4" height="7" fill="#40e040" stroke="#109010" stroke-width="1"/>
<g stroke="#505050" stroke-width="1.4" fill="none"><path d="M315.5 2 V15.5 M313 13.5 H327"/></g>
<path d="M315.5 1.5 L313.5 4 L317.5 4 Z M328.5 13.5 L326 11.5 L326 15.5 Z" fill="#505050"/>
<path d="M314 10.5 Q320 2 323 5.5 Q325 8 326.5 9" stroke="#30a030" stroke-width="1.2" fill="none"/>
<g shape-rendering="crispEdges">
<rect x="336" y="0" width="1" height="18" fill="#a0a0a0"/><rect x="337" y="0" width="1" height="18" fill="#ffffff"/>
</g>
<path d="M354 9.5 L359.5 15" stroke="#a07800" stroke-width="3"/><path d="M354 9.5 L359.5 15" stroke="#f0d050" stroke-width="1.6"/>
<circle cx="351" cy="6" r="5.3" fill="#d8eefc" stroke="#3a7ac0" stroke-width="1.3"/>
<path d="M348 6 H354 M351 3 V9" stroke="#3a78b0" stroke-width="1.6"/>
<path d="M382 9.5 L387.5 15" stroke="#a07800" stroke-width="3"/><path d="M382 9.5 L387.5 15" stroke="#f0d050" stroke-width="1.6"/>
<circle cx="379" cy="6" r="5.3" fill="#d8eefc" stroke="#3a7ac0" stroke-width="1.3"/>
<path d="M376 6 H382" stroke="#3a78b0" stroke-width="1.6"/>
<g shape-rendering="crispEdges">
<rect x="401" y="0" width="8" height="8" fill="#30a020"/>
<rect x="402" y="3" width="6" height="4" fill="#f4f8fc"/><rect x="403" y="4" width="4" height="1" fill="#98d890"/><rect x="403" y="6" width="4" height="1" fill="#30a020"/><rect x="402" y="1" width="1" height="1" fill="#fff"/>
<rect x="409" y="0" width="8" height="8" fill="#2050d0"/>
<rect x="410" y="3" width="6" height="4" fill="#f4f8fc"/><rect x="411" y="4" width="4" height="1" fill="#98b0f0"/><rect x="411" y="6" width="4" height="1" fill="#2050d0"/><rect x="410" y="1" width="1" height="1" fill="#fff"/>
<rect x="401" y="8" width="8" height="8" fill="#2050d0"/>
<rect x="402" y="11" width="6" height="4" fill="#f4f8fc"/><rect x="403" y="12" width="4" height="1" fill="#98b0f0"/><rect x="403" y="14" width="4" height="1" fill="#2050d0"/><rect x="402" y="9" width="1" height="1" fill="#fff"/>
<rect x="409" y="8" width="8" height="8" fill="#30a020"/>
<rect x="410" y="11" width="6" height="4" fill="#f4f8fc"/><rect x="411" y="12" width="4" height="1" fill="#98d890"/><rect x="411" y="14" width="4" height="1" fill="#30a020"/><rect x="410" y="9" width="1" height="1" fill="#fff"/>
<rect x="426" y="0" width="1" height="18" fill="#a0a0a0"/><rect x="427" y="0" width="1" height="18" fill="#ffffff"/>
<rect x="431" y="0" width="1" height="18" fill="#a0a0a0"/>
<rect x="433" y="0" width="23" height="18" fill="#f7f7f7"/>
</g>
<g stroke="#505050" stroke-width="1.4" fill="none"><path d="M439.5 2 V15.5 M437 13.5 H451"/></g>
<path d="M439.5 1.5 L437.5 4 L441.5 4 Z M452.5 13.5 L450 11.5 L450 15.5 Z" fill="#505050"/>
<path d="M444.5 4.5 L448.5 7.5 L444.5 10.5 Z" fill="#50e050" stroke="#10a010" stroke-width="1"/>
<g shape-rendering="crispEdges">
<rect x="459" y="0" width="1" height="18" fill="#a0a0a0"/><rect x="460" y="0" width="1" height="18" fill="#ffffff"/>
<rect x="461" y="0" width="23" height="18" fill="#f7f7f7"/>
</g>
<g stroke="#505050" stroke-width="1.4" fill="none"><path d="M467.5 2 V15.5 M465 13.5 H479"/></g>
<path d="M467.5 1.5 L465.5 4 L469.5 4 Z M480.5 13.5 L478 11.5 L478 15.5 Z" fill="#505050"/>
<path d="M473.5 2 V12" stroke="#1878b0" stroke-width="1.3"/>
<path d="M475 7.5 L478 5.5 L478 9.5 Z M476 7.5 H479.5" fill="#e05010" stroke="#e05010" stroke-width="1"/>
<g shape-rendering="crispEdges">
<rect x="488" y="0" width="1" height="18" fill="#a0a0a0"/><rect x="489" y="0" width="1" height="18" fill="#ffffff"/>
</g>
<path d="M498.5 0.5 H507 L509.5 3 V13.5 H498.5 Z" fill="#fff" stroke="#7a7a7a" stroke-width="1"/>
<path d="M500 3 H503 M500 6.5 H506 M500 8.5 H504" stroke="#8a8a8a" stroke-width="1"/>
<path d="M506.5 6.5 h3 v4 h4 v3 h-4 v4 h-3 v-4 h-4 v-3 h4 Z" fill="#22d02a" stroke="#0a8a10" stroke-width="1"/>
<path d="M519.5 7 L525.5 7 L522.5 10.5 Z" fill="#000"/>
<circle cx="544" cy="8" r="7" fill="#fff" stroke="#1a70d0" stroke-width="2"/>
<path d="M543.5 4 V8.5 H546.5" stroke="#000" stroke-width="1.1" fill="none"/>
<path d="M558.5 7 L564.5 7 L561.5 10.5 Z" fill="#000"/>
<rect x="575.5" y="1.5" width="15" height="13" fill="#fff" stroke="#3c78c8" stroke-width="1"/>
<rect x="576" y="2" width="14" height="2" fill="#5a90d8"/>
<path d="M576 9 H590" stroke="#80a8d8" stroke-width="0.8"/>
<path d="M577 7.5 L579 7.5 L581 6.5 L583 5.5 L585 6.5 L587 6 L589 5.5" stroke="#b02010" stroke-width="1.1" fill="none"/>
<path d="M577 12.5 L579 12 L581 11.5 L583 12.5 L585 10.5 L587 11 L589 12.5" stroke="#10a020" stroke-width="1.1" fill="none"/>
<path d="M597.5 7 L603.5 7 L600.5 10.5 Z" fill="#000"/>
<g shape-rendering="crispEdges">
<rect x="609" y="0" width="1" height="18" fill="#a0a0a0"/><rect x="610" y="0" width="1" height="18" fill="#ffffff"/>
<rect x="612" y="1" width="3" height="1" fill="#a8a8a8"/>
<rect x="612" y="3" width="3" height="1" fill="#a8a8a8"/>
<rect x="612" y="5" width="3" height="1" fill="#a8a8a8"/>
<rect x="612" y="7" width="3" height="1" fill="#a8a8a8"/>
<rect x="612" y="9" width="3" height="1" fill="#a8a8a8"/>
<rect x="612" y="11" width="3" height="1" fill="#a8a8a8"/>
<rect x="612" y="13" width="3" height="1" fill="#a8a8a8"/>
<rect x="612" y="15" width="3" height="1" fill="#a8a8a8"/>
<rect x="612" y="17" width="3" height="1" fill="#a8a8a8"/>
<rect x="619" y="0" width="1" height="18" fill="#a0a0a0"/>
<rect x="621" y="0" width="23" height="18" fill="#f7f7f7"/>
</g>
<path d="M627.5 1 L627.5 12 L630 9.5 L632 14.5 L634 13.5 L632 9 L635.5 9 Z" fill="#4a4a4a"/>
<path d="M652 8.5 H658 M661 8.5 H667 M659.5 1 V7 M659.5 10 V15.5" stroke="#505050" stroke-width="1.3"/>
<g shape-rendering="crispEdges">
<rect x="676" y="0" width="1" height="18" fill="#a0a0a0"/><rect x="677" y="0" width="1" height="18" fill="#ffffff"/>
</g>
<path d="M693.5 2 V14.5" stroke="#505050" stroke-width="1.4"/>
<path d="M716 8.5 H728" stroke="#505050" stroke-width="1.4"/>
<path d="M744 14.5 L756 3" stroke="#505050" stroke-width="1.2"/>
<path d="M770 9.5 L778 2 M771 13.5 L783 3 M775 14.5 L783 7" stroke="#505050" stroke-width="1" fill="none"/>
<path d="M772 13 L773 9 M775 11 L776 7 M778 9 L779 5 M781 6 L782 1" stroke="#505050" stroke-width="1.2"/>
<text x="780.5" y="17" font-size="6.5" font-weight="bold" fill="#505050" font-family='"Liberation Sans", sans-serif'>E</text>
<g shape-rendering="crispEdges">
<rect x="799" y="1" width="1" height="1" fill="#404040"/>
<rect x="801" y="1" width="1" height="1" fill="#404040"/>
<rect x="803" y="1" width="1" height="1" fill="#404040"/>
<rect x="805" y="1" width="1" height="1" fill="#404040"/>
<rect x="807" y="1" width="1" height="1" fill="#404040"/>
<rect x="809" y="1" width="1" height="1" fill="#404040"/>
<rect x="811" y="1" width="1" height="1" fill="#404040"/>
<rect x="799" y="4" width="1" height="1" fill="#404040"/>
<rect x="801" y="4" width="1" height="1" fill="#404040"/>
<rect x="803" y="4" width="1" height="1" fill="#404040"/>
<rect x="805" y="4" width="1" height="1" fill="#404040"/>
<rect x="807" y="4" width="1" height="1" fill="#404040"/>
<rect x="809" y="4" width="1" height="1" fill="#404040"/>
<rect x="811" y="4" width="1" height="1" fill="#404040"/>
<rect x="799" y="8" width="1" height="1" fill="#404040"/>
<rect x="801" y="8" width="1" height="1" fill="#404040"/>
<rect x="803" y="8" width="1" height="1" fill="#404040"/>
<rect x="805" y="8" width="1" height="1" fill="#404040"/>
<rect x="807" y="8" width="1" height="1" fill="#404040"/>
<rect x="809" y="8" width="1" height="1" fill="#404040"/>
<rect x="811" y="8" width="1" height="1" fill="#404040"/>
<rect x="799" y="12" width="1" height="1" fill="#404040"/>
<rect x="801" y="12" width="1" height="1" fill="#404040"/>
<rect x="803" y="12" width="1" height="1" fill="#404040"/>
<rect x="805" y="12" width="1" height="1" fill="#404040"/>
<rect x="807" y="12" width="1" height="1" fill="#404040"/>
</g>
<text x="808.5" y="17" font-size="6.5" font-weight="bold" fill="#505050" font-family='"Liberation Sans", sans-serif'>F</text>
<text x="829" y="13" font-size="12" fill="#505050" font-family='"Liberation Sans", sans-serif'>A</text>
<g shape-rendering="crispEdges">
<rect x="856" y="2" width="1" height="1" fill="#404040"/><rect x="856" y="14" width="1" height="1" fill="#404040"/>
<rect x="858" y="2" width="1" height="1" fill="#404040"/><rect x="858" y="14" width="1" height="1" fill="#404040"/>
<rect x="860" y="2" width="1" height="1" fill="#404040"/><rect x="860" y="14" width="1" height="1" fill="#404040"/>
<rect x="862" y="2" width="1" height="1" fill="#404040"/><rect x="862" y="14" width="1" height="1" fill="#404040"/>
<rect x="864" y="2" width="1" height="1" fill="#404040"/><rect x="864" y="14" width="1" height="1" fill="#404040"/>
<rect x="866" y="2" width="1" height="1" fill="#404040"/><rect x="866" y="14" width="1" height="1" fill="#404040"/>
<rect x="868" y="2" width="1" height="1" fill="#404040"/><rect x="868" y="14" width="1" height="1" fill="#404040"/>
<rect x="856" y="2" width="1" height="1" fill="#404040"/><rect x="867" y="2" width="1" height="1" fill="#404040"/>
<rect x="856" y="4" width="1" height="1" fill="#404040"/><rect x="867" y="4" width="1" height="1" fill="#404040"/>
<rect x="856" y="6" width="1" height="1" fill="#404040"/><rect x="867" y="6" width="1" height="1" fill="#404040"/>
<rect x="856" y="8" width="1" height="1" fill="#404040"/><rect x="867" y="8" width="1" height="1" fill="#404040"/>
<rect x="856" y="10" width="1" height="1" fill="#404040"/><rect x="867" y="10" width="1" height="1" fill="#404040"/>
<rect x="856" y="12" width="1" height="1" fill="#404040"/><rect x="867" y="12" width="1" height="1" fill="#404040"/>
<rect x="856" y="14" width="1" height="1" fill="#404040"/><rect x="867" y="14" width="1" height="1" fill="#404040"/>
<rect x="858" y="5" width="8" height="2" fill="#505050"/><rect x="861" y="5" width="2" height="8" fill="#505050"/>
</g>
<path d="M883 5.5 L886.5 2 L890 5.5 L886.5 6.5 Z" fill="#505050"/>
<path d="M886 8 L888 10.5 L891.5 6" stroke="#505050" stroke-width="1.2" fill="none"/>
<path d="M890 11 L897 11 L893.5 15 Z" fill="#505050"/>
<path d="M903.5 7 L909.5 7 L906.5 10.5 Z" fill="#000"/>
<g shape-rendering="crispEdges">
<rect x="915" y="0" width="1" height="18" fill="#a0a0a0"/><rect x="916" y="0" width="1" height="18" fill="#ffffff"/>
<rect x="919" y="1" width="3" height="1" fill="#a8a8a8"/>
<rect x="919" y="3" width="3" height="1" fill="#a8a8a8"/>
<rect x="919" y="5" width="3" height="1" fill="#a8a8a8"/>
<rect x="919" y="7" width="3" height="1" fill="#a8a8a8"/>
<rect x="919" y="9" width="3" height="1" fill="#a8a8a8"/>
<rect x="919" y="11" width="3" height="1" fill="#a8a8a8"/>
<rect x="919" y="13" width="3" height="1" fill="#a8a8a8"/>
<rect x="919" y="15" width="3" height="1" fill="#a8a8a8"/>
<rect x="919" y="17" width="3" height="1" fill="#a8a8a8"/>
</g>
<text x="930" y="12" font-size="9" fill="#333" font-family='"Liberation Sans", sans-serif'>M1</text>
<text x="958" y="12" font-size="9" fill="#333" font-family='"Liberation Sans", sans-serif'>M5</text>
<text x="984.5" y="12" font-size="9" fill="#333" font-family='"Liberation Sans", sans-serif'>M15</text>
<text x="1012" y="12" font-size="9" fill="#333" font-family='"Liberation Sans", sans-serif'>M30</text>
<text x="1043.5" y="12" font-size="9" fill="#333" font-family='"Liberation Sans", sans-serif'>H1</text>
<text x="1099.5" y="12" font-size="9" fill="#333" font-family='"Liberation Sans", sans-serif'>D1</text>
<text x="1127" y="12" font-size="9" fill="#333" font-family='"Liberation Sans", sans-serif'>W1</text>
<text x="1153.5" y="12" font-size="9" fill="#333" font-family='"Liberation Sans", sans-serif'>MN</text>
<g shape-rendering="crispEdges">
<rect x="1065" y="0" width="1" height="18" fill="#a0a0a0"/>
<rect x="1066" y="0" width="24" height="18" fill="#f7f7f7"/>
</g>
<text x="1070.5" y="12" font-size="9" fill="#333" font-family='"Liberation Sans", sans-serif'>H4</text>
<g shape-rendering="crispEdges">
<rect x="1176" y="0" width="1" height="18" fill="#a0a0a0"/>
</g>
<circle cx="1646.5" cy="5.5" r="4" fill="#f4f6ff" stroke="#2a5fd0" stroke-width="1.4"/>
<path d="M1643.5 8.5 L1639.5 12.5" stroke="#2a5fd0" stroke-width="2.2" stroke-linecap="round"/>
<path d="M1669 15 L1667 16.5 L1667.5 14 Q1663 12.5 1663.5 10 Q1664 5.5 1669.5 5.5 Q1675 5.5 1675 10 Q1675 14 1669 15 Z" fill="#e0e2ea" stroke="#9a9a9a" stroke-width="0.9"/>
<circle cx="1677.5" cy="6" r="8.2" fill="#d83220"/>
<text x="1674.3" y="10" font-size="11" fill="#fff" font-family='"Liberation Serif", serif'>1</text>
</svg></body></html>
